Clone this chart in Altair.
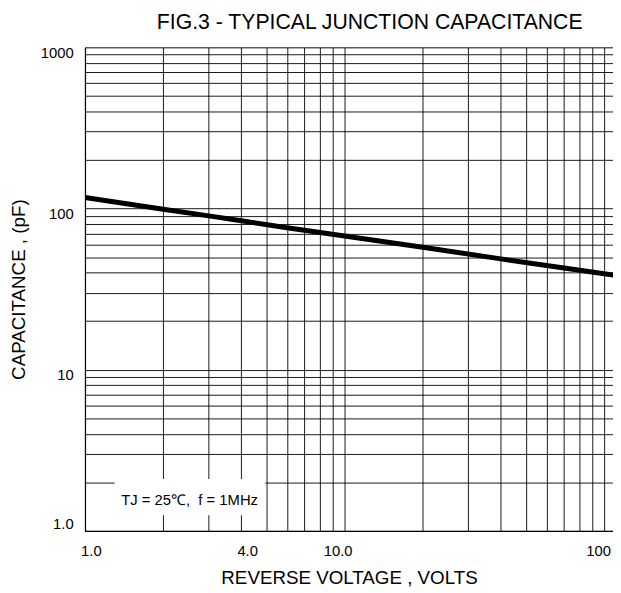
import altair as alt
import pandas as pd

# curve (reverse voltage in V, capacitance in pF)
voltage = [1, 2, 3, 4, 6, 10, 20, 40, 60, 100, 110]
capacitance = [117, 99, 90, 84, 76, 67.5, 57.5, 48.7, 44.3, 39.4, 38.6]

# grid lines and labelled ticks
x_grid = [1, 2, 3, 4, 5, 6, 7, 8, 9, 10, 20, 30, 40, 50, 60, 70, 80, 90, 100]
y_grid = [1, 2, 3, 4, 5, 6, 7, 8, 9, 10, 20, 30, 40, 50, 60, 70, 80, 90, 100,
          200, 300, 400, 500, 600, 700, 800, 900, 1000]
x_label_values = [1, 4, 10, 100]
x_label_texts = ["1.0", "4.0", "10.0", "100"]
y_label_values = [1, 10, 100, 1000]
y_label_texts = ["1.0", "10", "100", "1000"]

# annotation (in data units)
note_text = ["TJ = 25\u2103,\u00a0 f = 1MHz"]
note_x = [2.53]
note_y = [1.555]
note_box_x = [1.3]
note_box_x2 = [4.95]
note_box_y = [1.25]
note_box_y2 = [2.1]

FONT = "Liberation Sans"

df = pd.DataFrame({"V": voltage, "C": capacitance})
note_df = pd.DataFrame({"V": note_x, "C": note_y, "t": note_text})
box_df = pd.DataFrame({"V": note_box_x, "V2": note_box_x2,
                       "C": note_box_y, "C2": note_box_y2})


def label_expr(values, texts):
    parts = []
    for v, t in zip(values, texts):
        parts.append(f"datum.value == {v} ? '{t}' : ")
    return "".join(parts) + "''"


x_scale = alt.Scale(type="log", domain=[1, 108.2], nice=False)
y_scale = alt.Scale(type="log", domain=[1, 1000], nice=False)

x_axis = alt.Axis(
    values=x_grid, labelExpr=label_expr(x_label_values, x_label_texts),
    grid=True, gridColor="black", gridWidth=1, gridOpacity=0.9,
    ticks=False, tickSize=0, labelOverlap=False, labelFlush=False,
    labelFont=FONT, labelFontSize=15, labelColor="black", labelPadding=13,
    labelOffset={"condition": [{"test": "datum.value == 10", "value": -7},
                               {"test": "datum.value == 100", "value": -6}],
                 "value": 6},
    domainColor="black", domainWidth=1.2,
    titleFont=FONT, titleFontSize=19, titleFontWeight="normal",
    titleColor="black", titlePadding=10,
)
y_axis = alt.Axis(
    values=y_grid, labelExpr=label_expr(y_label_values, y_label_texts),
    grid=True, gridColor="black", gridWidth=1, gridOpacity=0.9,
    ticks=False, tickSize=0, labelOverlap=False, labelFlush=False,
    labelFont=FONT, labelFontSize=15, labelColor="black", labelPadding=12,
    labelBaseline="middle",
    labelOffset=alt.condition("datum.value == 1", alt.value(-7), alt.value(5)),
    domainColor="black", domainWidth=1.2,
    titleFont=FONT, titleFontSize=19, titleFontWeight="normal",
    titleColor="black", titlePadding=12,
)

X_TITLE = "REVERSE VOLTAGE , VOLTS"
Y_TITLE = "CAPACITANCE , (pF)"

line = alt.Chart(df).mark_line(color="black", strokeWidth=5, clip=True).encode(
    x=alt.X("V:Q", scale=x_scale, axis=x_axis, title=X_TITLE),
    y=alt.Y("C:Q", scale=y_scale, axis=y_axis, title=Y_TITLE),
)

box = alt.Chart(box_df).mark_rect(fill="white").encode(
    x=alt.X("V:Q", scale=x_scale, axis=x_axis, title=X_TITLE),
    x2="V2:Q",
    y=alt.Y("C:Q", scale=y_scale, axis=y_axis, title=Y_TITLE),
    y2="C2:Q",
)

note = alt.Chart(note_df).mark_text(
    font=FONT, fontSize=15, color="black", align="center", baseline="middle"
).encode(
    x=alt.X("V:Q", scale=x_scale, axis=x_axis, title=X_TITLE),
    y=alt.Y("C:Q", scale=y_scale, axis=y_axis, title=Y_TITLE),
    text="t:N",
)

chart = alt.layer(box, line, note).properties(
    width=535,
    height=490,
    autosize=alt.AutoSizeParams(type="none"),
    padding={"left": 78, "top": 36, "right": 0, "bottom": 57},
    title=alt.TitleParams(
        "FIG.3 - TYPICAL JUNCTION CAPACITANCE",
        font=FONT, fontSize=21.5, fontWeight="normal", color="black",
        anchor="middle", frame="group", dx=21, offset=12,
    ),
).configure_view(stroke=None).configure(background="white")

chart.save("out.html", embed_options={"renderer": "svg", "actions": False})
